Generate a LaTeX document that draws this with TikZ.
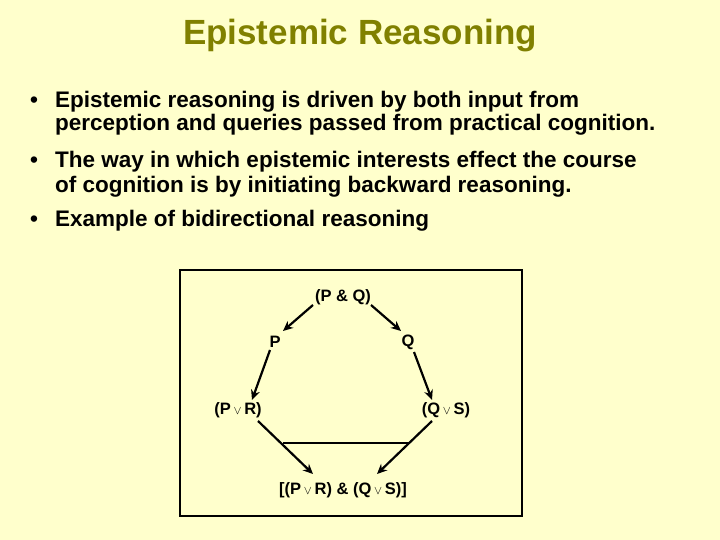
\documentclass[tikz,border=0pt]{standalone}
\usepackage{fontspec}
\setmainfont{Liberation Sans}
\usetikzlibrary{arrows.meta}
\definecolor{bg}{RGB}{255,255,204}
\definecolor{ttl}{RGB}{128,128,0}
\begin{document}
\begin{tikzpicture}[x=1pt,y=-1pt,
  lbl/.style={font=\fontsize{16.5}{18}\selectfont\bfseries, inner sep=1pt},
  bul/.style={font=\fontsize{22.5}{26}\selectfont\bfseries, anchor=west, inner sep=0pt},
  arr/.style={line width=2.2pt, -{Stealth[length=10pt,width=9pt]}}]
\fill[bg] (0,0) rectangle (720,540);
\useasboundingbox (0,0) rectangle (720,540);
\node[font=\fontsize{35}{40}\selectfont\bfseries, text=ttl] (title) at (360,36) {Epistemic Reasoning};
\node[bul] (b1) at (30,102) {•};
\node[bul] (l1) at (55,102) {Epistemic reasoning is driven by both input from};
\node[bul] (l2) at (55,125) {perception and queries passed from practical cognition.};
\node[bul] (b2) at (30,162) {•};
\node[bul] (l3) at (55,162) {The way in which epistemic interests effect the course};
\node[bul] (l4) at (55,187) {of cognition is by initiating backward reasoning.};
\node[bul] (b3) at (30,221) {•};
\node[bul] (l5) at (55,221) {Example of bidirectional reasoning};
\draw[line width=1.4pt] (180,270) rectangle (522,516);
\newcommand{\vv}{\,{\fontsize{13}{13}\selectfont$\vee$}\,}
\node[lbl] (pq) at (343,297) {(P \& Q)};
\node[lbl] (p) at (275,342) {P};
\node[lbl] (q) at (408,342) {Q};
\node[lbl] (pr) at (238,410) {(P\vv R)};
\node[lbl] (qs) at (446,410) {(Q\vv S)};
\node[lbl] (bt) at (343,490) {[(P\vv R) \& (Q\vv S)]};
\coordinate (a1) at (313,305); \coordinate (a2) at (283,331);
\coordinate (c1) at (371,305); \coordinate (c2) at (401,331);
\coordinate (p1) at (270,350); \coordinate (p2) at (252,400);
\coordinate (q1) at (414,352); \coordinate (q2) at (432,400);
\draw[arr] (a1) -- (a2);
\draw[arr] (c1) -- (c2);
\draw[arr] (p1) -- (p2);
\draw[arr] (q1) -- (q2);
\coordinate (d1) at (258,421); \coordinate (d2) at (313,474);
\coordinate (e1) at (432,421); \coordinate (e2) at (377,474);
\draw[arr] (d1) -- (d2);
\draw[arr] (e1) -- (e2);
\draw[line width=2.2pt] (283,443) coordinate (h1) -- (410,443) coordinate (h2);
\end{tikzpicture}
\end{document}
